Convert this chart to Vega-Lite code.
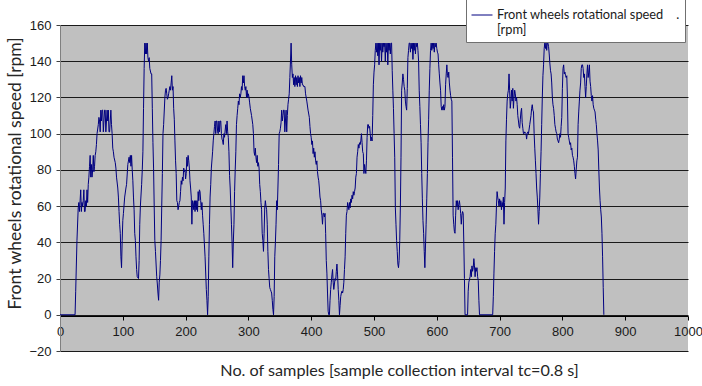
{
  "$schema": "https://vega.github.io/schema/vega-lite/v6.json",
  "autosize": "none",
  "width": 628,
  "height": 326,
  "padding": {"left": 60, "top": 25, "right": 14, "bottom": 35},
  "background": "white",
  "config": {
    "view": {"fill": "#c0c0c0", "stroke": null},
    "axis": {
      "labelFont": "Liberation Sans",
      "labelFontSize": 13,
      "labelColor": "#1a1a1a",
      "titleFont": "Lato",
      "titleFontWeight": "normal",
      "titleColor": "#262626"
    }
  },
  "data": {
    "values": [
      {"n":0,"rpm":0},{"n":24,"rpm":0},{"n":25,"rpm":13},{"n":27,"rpm":41},{"n":29,"rpm":59},{"n":30,"rpm":62},{"n":31,"rpm":57},{"n":32,"rpm":63},{"n":33,"rpm":69},{"n":34,"rpm":57},{"n":35,"rpm":62},{"n":36,"rpm":60},{"n":37,"rpm":63},{"n":38,"rpm":69},{"n":39,"rpm":57},{"n":40,"rpm":57},{"n":41,"rpm":63},{"n":42,"rpm":60},{"n":43,"rpm":69},{"n":44,"rpm":62},{"n":45,"rpm":72},{"n":46,"rpm":76},{"n":47,"rpm":82},{"n":48,"rpm":88},{"n":49,"rpm":76},{"n":50,"rpm":83},{"n":51,"rpm":76},{"n":52,"rpm":80},{"n":53,"rpm":88},{"n":54,"rpm":79},{"n":55,"rpm":82},{"n":56,"rpm":88},{"n":57,"rpm":90},{"n":58,"rpm":94},{"n":59,"rpm":100},{"n":61,"rpm":105},{"n":62,"rpm":109},{"n":63,"rpm":107},{"n":64,"rpm":101},{"n":65,"rpm":113},{"n":66,"rpm":107},{"n":67,"rpm":113},{"n":68,"rpm":113},{"n":69,"rpm":101},{"n":70,"rpm":107},{"n":71,"rpm":113},{"n":72,"rpm":113},{"n":73,"rpm":101},{"n":74,"rpm":107},{"n":75,"rpm":113},{"n":76,"rpm":107},{"n":77,"rpm":113},{"n":78,"rpm":101},{"n":79,"rpm":101},{"n":80,"rpm":107},{"n":81,"rpm":113},{"n":82,"rpm":105},{"n":83,"rpm":100},{"n":84,"rpm":92},{"n":85,"rpm":90},{"n":86,"rpm":87},{"n":88,"rpm":84},{"n":89,"rpm":81},{"n":90,"rpm":76},{"n":92,"rpm":70},{"n":93,"rpm":65},{"n":94,"rpm":57},{"n":95,"rpm":50},{"n":96,"rpm":45},{"n":97,"rpm":32},{"n":98,"rpm":26},{"n":99,"rpm":41},{"n":100,"rpm":52},{"n":101,"rpm":56},{"n":103,"rpm":65},{"n":105,"rpm":70},{"n":106,"rpm":72},{"n":108,"rpm":83},{"n":110,"rpm":87},{"n":111,"rpm":84},{"n":112,"rpm":88},{"n":113,"rpm":82},
      {"n":114,"rpm":88},{"n":115,"rpm":80},{"n":116,"rpm":74},{"n":117,"rpm":65},{"n":118,"rpm":58},{"n":119,"rpm":45},{"n":120,"rpm":41},{"n":121,"rpm":32},{"n":122,"rpm":25},{"n":123,"rpm":21},{"n":125,"rpm":20},{"n":126,"rpm":30},{"n":127,"rpm":50},{"n":128,"rpm":60},{"n":130,"rpm":72},{"n":131,"rpm":80},{"n":132,"rpm":90},{"n":133,"rpm":114},{"n":134,"rpm":136},{"n":135,"rpm":150},{"n":136,"rpm":144},{"n":137,"rpm":150},{"n":138,"rpm":144},{"n":139,"rpm":150},{"n":140,"rpm":142},{"n":141,"rpm":140},{"n":142,"rpm":142},{"n":143,"rpm":136},{"n":145,"rpm":133},{"n":146,"rpm":133},{"n":147,"rpm":114},{"n":148,"rpm":95},{"n":149,"rpm":81},{"n":150,"rpm":60},{"n":151,"rpm":41},{"n":152,"rpm":35},{"n":154,"rpm":21},{"n":155,"rpm":17},{"n":156,"rpm":12},{"n":157,"rpm":8},{"n":158,"rpm":18},{"n":159,"rpm":22},{"n":160,"rpm":30},{"n":161,"rpm":41},{"n":162,"rpm":60},{"n":163,"rpm":78},{"n":164,"rpm":100},{"n":165,"rpm":105},{"n":167,"rpm":120},{"n":168,"rpm":124},{"n":169,"rpm":125},{"n":170,"rpm":122},{"n":171,"rpm":119},{"n":172,"rpm":120},{"n":173,"rpm":122},{"n":174,"rpm":124},{"n":175,"rpm":126},{"n":176,"rpm":124},{"n":177,"rpm":128},{"n":178,"rpm":132},{"n":179,"rpm":124},{"n":180,"rpm":126},{"n":181,"rpm":114},{"n":182,"rpm":108},{"n":183,"rpm":96},{"n":184,"rpm":85},{"n":185,"rpm":78},{"n":186,"rpm":63},{"n":187,"rpm":62},{"n":188,"rpm":58},{"n":189,"rpm":60},{"n":190,"rpm":62},{"n":191,"rpm":63},{"n":192,"rpm":68},{"n":193,"rpm":74},{"n":194,"rpm":72},{"n":195,"rpm":76},{"n":196,"rpm":74},{"n":197,"rpm":81},{"n":198,"rpm":79},{"n":199,"rpm":80},{"n":200,"rpm":75},{"n":201,"rpm":78},{"n":202,"rpm":87},{"n":203,"rpm":82},{"n":204,"rpm":88},{"n":205,"rpm":85},{"n":206,"rpm":81},{"n":207,"rpm":74},{"n":208,"rpm":70},{"n":209,"rpm":65},{"n":210,"rpm":50},{"n":211,"rpm":63},{"n":212,"rpm":62},{"n":213,"rpm":58},{"n":214,"rpm":63},{"n":215,"rpm":57},{"n":216,"rpm":63},{"n":217,"rpm":58},{"n":218,"rpm":63},{"n":219,"rpm":57},{"n":220,"rpm":68},{"n":221,"rpm":63},{"n":222,"rpm":69},
      {"n":223,"rpm":68},{"n":224,"rpm":63},{"n":225,"rpm":58},{"n":226,"rpm":62},{"n":227,"rpm":55},{"n":228,"rpm":50},{"n":229,"rpm":45},{"n":231,"rpm":32},{"n":233,"rpm":14},{"n":234,"rpm":8},{"n":235,"rpm":0},{"n":236,"rpm":10},{"n":237,"rpm":32},{"n":238,"rpm":50},{"n":239,"rpm":65},{"n":240,"rpm":72},{"n":241,"rpm":81},{"n":243,"rpm":90},{"n":244,"rpm":96},{"n":246,"rpm":104},{"n":247,"rpm":107},{"n":248,"rpm":100},{"n":249,"rpm":107},{"n":250,"rpm":107},{"n":251,"rpm":101},{"n":252,"rpm":100},{"n":253,"rpm":107},{"n":254,"rpm":101},{"n":255,"rpm":107},{"n":256,"rpm":107},{"n":257,"rpm":100},{"n":258,"rpm":97},{"n":259,"rpm":96},{"n":260,"rpm":94},{"n":261,"rpm":100},{"n":262,"rpm":98},{"n":263,"rpm":102},{"n":264,"rpm":105},{"n":265,"rpm":100},{"n":266,"rpm":107},{"n":267,"rpm":101},{"n":268,"rpm":98},{"n":269,"rpm":90},{"n":270,"rpm":77},{"n":271,"rpm":70},{"n":272,"rpm":60},{"n":273,"rpm":50},{"n":274,"rpm":40},{"n":275,"rpm":26},{"n":276,"rpm":40},{"n":277,"rpm":50},{"n":278,"rpm":68},{"n":279,"rpm":80},{"n":280,"rpm":90},{"n":281,"rpm":105},{"n":282,"rpm":110},{"n":283,"rpm":114},{"n":284,"rpm":118},{"n":285,"rpm":116},{"n":286,"rpm":122},{"n":287,"rpm":120},{"n":288,"rpm":122},{"n":289,"rpm":126},{"n":290,"rpm":124},{"n":291,"rpm":132},{"n":292,"rpm":128},{"n":293,"rpm":132},{"n":294,"rpm":126},{"n":295,"rpm":124},{"n":296,"rpm":126},{"n":297,"rpm":120},{"n":298,"rpm":124},{"n":299,"rpm":120},{"n":300,"rpm":122},{"n":301,"rpm":120},{"n":302,"rpm":117},{"n":303,"rpm":114},{"n":305,"rpm":110},{"n":307,"rpm":105},{"n":308,"rpm":100},{"n":309,"rpm":90},{"n":310,"rpm":88},{"n":311,"rpm":92},{"n":312,"rpm":87},{"n":313,"rpm":84},{"n":314,"rpm":88},{"n":315,"rpm":82},{"n":316,"rpm":84},{"n":317,"rpm":81},{"n":318,"rpm":72},{"n":319,"rpm":68},{"n":320,"rpm":62},{"n":321,"rpm":58},{"n":322,"rpm":45},{"n":323,"rpm":41},{"n":324,"rpm":35},{"n":325,"rpm":45},{"n":326,"rpm":59},{"n":327,"rpm":63},{"n":328,"rpm":60},{"n":329,"rpm":58},{"n":330,"rpm":50},{"n":331,"rpm":35},{"n":332,"rpm":25},{"n":333,"rpm":20},{"n":334,"rpm":15},
      {"n":335,"rpm":14},{"n":336,"rpm":13},{"n":337,"rpm":12},{"n":338,"rpm":8},{"n":339,"rpm":3},{"n":340,"rpm":0},{"n":341,"rpm":10},{"n":342,"rpm":32},{"n":343,"rpm":40},{"n":344,"rpm":50},{"n":345,"rpm":63},{"n":346,"rpm":58},{"n":347,"rpm":70},{"n":348,"rpm":83},{"n":349,"rpm":100},{"n":350,"rpm":101},{"n":351,"rpm":103},{"n":352,"rpm":106},{"n":353,"rpm":113},{"n":354,"rpm":107},{"n":355,"rpm":110},{"n":356,"rpm":113},{"n":357,"rpm":113},{"n":358,"rpm":101},{"n":359,"rpm":107},{"n":360,"rpm":113},{"n":361,"rpm":101},{"n":362,"rpm":110},{"n":363,"rpm":116},{"n":364,"rpm":119},{"n":365,"rpm":122},{"n":366,"rpm":131},{"n":367,"rpm":140},{"n":368,"rpm":150},{"n":369,"rpm":138},{"n":370,"rpm":131},{"n":371,"rpm":133},{"n":372,"rpm":127},{"n":373,"rpm":131},{"n":374,"rpm":126},{"n":375,"rpm":132},{"n":376,"rpm":127},{"n":377,"rpm":131},{"n":378,"rpm":126},{"n":379,"rpm":132},{"n":380,"rpm":128},{"n":381,"rpm":131},{"n":382,"rpm":126},{"n":383,"rpm":132},{"n":384,"rpm":128},{"n":385,"rpm":131},{"n":386,"rpm":127},{"n":387,"rpm":127},{"n":388,"rpm":126},{"n":390,"rpm":126},{"n":391,"rpm":122},{"n":393,"rpm":118},{"n":395,"rpm":113},{"n":397,"rpm":109},{"n":398,"rpm":104},{"n":399,"rpm":100},{"n":400,"rpm":98},{"n":401,"rpm":94},{"n":402,"rpm":96},{"n":403,"rpm":89},{"n":404,"rpm":92},{"n":405,"rpm":87},{"n":406,"rpm":90},{"n":407,"rpm":85},{"n":408,"rpm":83},{"n":409,"rpm":85},{"n":410,"rpm":79},{"n":411,"rpm":76},{"n":412,"rpm":74},{"n":413,"rpm":70},{"n":414,"rpm":65},{"n":415,"rpm":63},{"n":416,"rpm":58},{"n":417,"rpm":55},{"n":418,"rpm":50},{"n":419,"rpm":56},{"n":420,"rpm":56},{"n":421,"rpm":54},{"n":422,"rpm":56},{"n":423,"rpm":45},{"n":424,"rpm":30},{"n":425,"rpm":23},{"n":426,"rpm":12},{"n":427,"rpm":2},{"n":428,"rpm":0},{"n":429,"rpm":0},{"n":430,"rpm":8},{"n":431,"rpm":14},{"n":432,"rpm":18},{"n":433,"rpm":22},{"n":434,"rpm":25},{"n":435,"rpm":18},{"n":436,"rpm":14},{"n":437,"rpm":17},{"n":438,"rpm":20},{"n":439,"rpm":19},{"n":440,"rpm":24},{"n":441,"rpm":28},{"n":442,"rpm":22},{"n":443,"rpm":14},{"n":444,"rpm":8},{"n":445,"rpm":0},{"n":446,"rpm":5},{"n":447,"rpm":10},{"n":448,"rpm":12},{"n":449,"rpm":13},{"n":450,"rpm":12},{"n":451,"rpm":14},
      {"n":452,"rpm":18},{"n":453,"rpm":25},{"n":454,"rpm":32},{"n":455,"rpm":45},{"n":456,"rpm":55},{"n":457,"rpm":57},{"n":458,"rpm":62},{"n":459,"rpm":60},{"n":460,"rpm":58},{"n":461,"rpm":62},{"n":462,"rpm":59},{"n":463,"rpm":64},{"n":464,"rpm":62},{"n":465,"rpm":66},{"n":466,"rpm":64},{"n":467,"rpm":68},{"n":468,"rpm":66},{"n":469,"rpm":68},{"n":470,"rpm":70},{"n":471,"rpm":76},{"n":472,"rpm":78},{"n":473,"rpm":87},{"n":474,"rpm":90},{"n":475,"rpm":94},{"n":476,"rpm":92},{"n":477,"rpm":95},{"n":478,"rpm":94},{"n":479,"rpm":96},{"n":480,"rpm":100},{"n":481,"rpm":95},{"n":482,"rpm":90},{"n":483,"rpm":89},{"n":484,"rpm":78},{"n":485,"rpm":83},{"n":486,"rpm":80},{"n":487,"rpm":78},{"n":488,"rpm":85},{"n":489,"rpm":98},{"n":490,"rpm":105},{"n":491,"rpm":105},{"n":492,"rpm":103},{"n":493,"rpm":104},{"n":494,"rpm":100},{"n":495,"rpm":96},{"n":496,"rpm":98},{"n":497,"rpm":96},{"n":498,"rpm":110},{"n":499,"rpm":127},{"n":500,"rpm":134},{"n":501,"rpm":138},{"n":502,"rpm":146},{"n":503,"rpm":150},{"n":504,"rpm":145},{"n":505,"rpm":150},{"n":506,"rpm":143},{"n":507,"rpm":150},{"n":508,"rpm":138},{"n":509,"rpm":150},{"n":510,"rpm":146},{"n":511,"rpm":150},{"n":512,"rpm":140},{"n":513,"rpm":150},{"n":514,"rpm":145},{"n":515,"rpm":150},{"n":516,"rpm":148},{"n":517,"rpm":150},{"n":518,"rpm":140},{"n":519,"rpm":150},{"n":520,"rpm":145},{"n":521,"rpm":150},{"n":522,"rpm":138},{"n":523,"rpm":150},{"n":524,"rpm":146},{"n":525,"rpm":150},{"n":526,"rpm":144},{"n":527,"rpm":150},{"n":528,"rpm":150},{"n":529,"rpm":135},{"n":530,"rpm":124},{"n":531,"rpm":114},{"n":532,"rpm":100},{"n":533,"rpm":87},{"n":534,"rpm":59},{"n":535,"rpm":50},{"n":536,"rpm":41},{"n":537,"rpm":35},{"n":538,"rpm":28},{"n":539,"rpm":26},{"n":540,"rpm":30},{"n":541,"rpm":41},{"n":542,"rpm":60},{"n":543,"rpm":87},{"n":544,"rpm":124},{"n":545,"rpm":128},{"n":546,"rpm":133},{"n":547,"rpm":130},{"n":548,"rpm":126},{"n":549,"rpm":124},{"n":550,"rpm":118},{"n":551,"rpm":115},{"n":552,"rpm":113},{"n":553,"rpm":125},{"n":554,"rpm":142},{"n":555,"rpm":146},{"n":556,"rpm":150},
      {"n":557,"rpm":150},{"n":558,"rpm":145},{"n":559,"rpm":150},{"n":560,"rpm":147},{"n":561,"rpm":150},{"n":562,"rpm":141},{"n":563,"rpm":150},{"n":564,"rpm":146},{"n":565,"rpm":150},{"n":566,"rpm":144},{"n":567,"rpm":150},{"n":568,"rpm":148},{"n":569,"rpm":150},{"n":570,"rpm":146},{"n":571,"rpm":140},{"n":572,"rpm":124},{"n":573,"rpm":115},{"n":574,"rpm":105},{"n":575,"rpm":95},{"n":576,"rpm":78},{"n":577,"rpm":64},{"n":578,"rpm":52},{"n":579,"rpm":45},{"n":580,"rpm":35},{"n":581,"rpm":26},{"n":582,"rpm":38},{"n":583,"rpm":50},{"n":584,"rpm":64},{"n":585,"rpm":78},{"n":586,"rpm":95},{"n":587,"rpm":108},{"n":588,"rpm":124},{"n":589,"rpm":136},{"n":590,"rpm":146},{"n":591,"rpm":150},{"n":592,"rpm":146},{"n":593,"rpm":150},{"n":594,"rpm":147},{"n":595,"rpm":150},{"n":596,"rpm":145},{"n":597,"rpm":150},{"n":598,"rpm":148},{"n":599,"rpm":150},{"n":600,"rpm":147},{"n":601,"rpm":145},{"n":602,"rpm":144},{"n":603,"rpm":138},{"n":604,"rpm":133},{"n":605,"rpm":128},{"n":606,"rpm":124},{"n":607,"rpm":115},{"n":608,"rpm":113},{"n":609,"rpm":115},{"n":610,"rpm":113},{"n":611,"rpm":116},{"n":612,"rpm":113},{"n":613,"rpm":115},{"n":614,"rpm":127},{"n":615,"rpm":133},{"n":616,"rpm":138},{"n":617,"rpm":132},{"n":618,"rpm":131},{"n":619,"rpm":134},{"n":620,"rpm":128},{"n":621,"rpm":124},{"n":622,"rpm":121},{"n":623,"rpm":119},{"n":624,"rpm":118},{"n":625,"rpm":87},{"n":626,"rpm":55},{"n":627,"rpm":50},{"n":628,"rpm":46},{"n":629,"rpm":45},{"n":630,"rpm":55},{"n":631,"rpm":63},{"n":632,"rpm":60},{"n":633,"rpm":63},{"n":634,"rpm":58},{"n":635,"rpm":61},{"n":636,"rpm":63},{"n":637,"rpm":60},{"n":638,"rpm":56},{"n":639,"rpm":50},{"n":640,"rpm":55},{"n":641,"rpm":57},{"n":642,"rpm":56},{"n":643,"rpm":40},{"n":644,"rpm":20},{"n":645,"rpm":0},{"n":649,"rpm":0},{"n":650,"rpm":13},{"n":651,"rpm":18},{"n":653,"rpm":21},{"n":654,"rpm":25},{"n":655,"rpm":21},{"n":656,"rpm":27},{"n":657,"rpm":24},{"n":658,"rpm":26},{"n":659,"rpm":31},{"n":660,"rpm":27},{"n":661,"rpm":21},{"n":662,"rpm":26},{"n":663,"rpm":24},{"n":664,"rpm":26},{"n":665,"rpm":21},{"n":666,"rpm":19},{"n":667,"rpm":8},{"n":668,"rpm":0},
      {"n":689,"rpm":0},{"n":690,"rpm":10},{"n":691,"rpm":23},{"n":692,"rpm":35},{"n":693,"rpm":45},{"n":694,"rpm":50},{"n":695,"rpm":60},{"n":696,"rpm":68},{"n":697,"rpm":65},{"n":698,"rpm":63},{"n":699,"rpm":60},{"n":700,"rpm":64},{"n":701,"rpm":60},{"n":702,"rpm":63},{"n":703,"rpm":58},{"n":704,"rpm":62},{"n":705,"rpm":60},{"n":706,"rpm":65},{"n":707,"rpm":50},{"n":708,"rpm":62},{"n":709,"rpm":70},{"n":710,"rpm":96},{"n":711,"rpm":108},{"n":712,"rpm":118},{"n":713,"rpm":122},{"n":714,"rpm":124},{"n":715,"rpm":133},{"n":716,"rpm":124},{"n":717,"rpm":114},{"n":718,"rpm":118},{"n":719,"rpm":124},{"n":720,"rpm":118},{"n":721,"rpm":125},{"n":722,"rpm":114},{"n":723,"rpm":120},{"n":724,"rpm":124},{"n":725,"rpm":122},{"n":726,"rpm":118},{"n":727,"rpm":120},{"n":728,"rpm":116},{"n":729,"rpm":110},{"n":730,"rpm":107},{"n":731,"rpm":104},{"n":732,"rpm":103},{"n":733,"rpm":108},{"n":734,"rpm":112},{"n":735,"rpm":114},{"n":736,"rpm":106},{"n":737,"rpm":103},{"n":738,"rpm":100},{"n":739,"rpm":100},{"n":740,"rpm":101},{"n":742,"rpm":100},{"n":743,"rpm":97},{"n":744,"rpm":100},{"n":745,"rpm":101},{"n":746,"rpm":100},{"n":748,"rpm":105},{"n":750,"rpm":110},{"n":751,"rpm":114},{"n":752,"rpm":116},{"n":753,"rpm":113},{"n":754,"rpm":112},{"n":755,"rpm":100},{"n":756,"rpm":92},{"n":757,"rpm":85},{"n":758,"rpm":78},{"n":759,"rpm":70},{"n":760,"rpm":65},{"n":761,"rpm":58},{"n":762,"rpm":50},{"n":763,"rpm":57},{"n":764,"rpm":65},{"n":765,"rpm":78},{"n":766,"rpm":90},{"n":767,"rpm":105},{"n":768,"rpm":120},{"n":769,"rpm":132},{"n":770,"rpm":138},{"n":771,"rpm":147},
      {"n":772,"rpm":150},{"n":773,"rpm":147},{"n":774,"rpm":150},{"n":775,"rpm":146},{"n":776,"rpm":150},{"n":777,"rpm":150},{"n":778,"rpm":148},{"n":779,"rpm":144},{"n":780,"rpm":139},{"n":781,"rpm":135},{"n":782,"rpm":133},{"n":783,"rpm":128},{"n":784,"rpm":120},{"n":785,"rpm":116},{"n":786,"rpm":114},{"n":787,"rpm":110},{"n":788,"rpm":105},{"n":789,"rpm":103},{"n":790,"rpm":101},{"n":791,"rpm":100},{"n":792,"rpm":97},{"n":793,"rpm":96},{"n":794,"rpm":95},{"n":795,"rpm":97},{"n":796,"rpm":100},{"n":797,"rpm":98},{"n":798,"rpm":104},{"n":799,"rpm":109},{"n":800,"rpm":125},{"n":801,"rpm":136},{"n":802,"rpm":138},{"n":803,"rpm":133},{"n":804,"rpm":134},{"n":805,"rpm":132},{"n":806,"rpm":131},{"n":807,"rpm":132},{"n":808,"rpm":120},{"n":809,"rpm":100},{"n":810,"rpm":98},{"n":811,"rpm":96},{"n":812,"rpm":94},{"n":813,"rpm":95},{"n":814,"rpm":91},{"n":815,"rpm":92},{"n":816,"rpm":88},{"n":817,"rpm":87},{"n":818,"rpm":85},{"n":819,"rpm":82},{"n":820,"rpm":78},{"n":821,"rpm":75},{"n":822,"rpm":80},{"n":823,"rpm":85},{"n":824,"rpm":87},{"n":825,"rpm":105},{"n":826,"rpm":112},{"n":827,"rpm":118},{"n":828,"rpm":124},{"n":829,"rpm":128},{"n":830,"rpm":136},{"n":831,"rpm":138},{"n":832,"rpm":138},{"n":833,"rpm":136},{"n":834,"rpm":131},{"n":835,"rpm":133},{"n":836,"rpm":126},{"n":837,"rpm":120},{"n":838,"rpm":126},{"n":839,"rpm":133},{"n":840,"rpm":138},{"n":841,"rpm":131},{"n":842,"rpm":134},{"n":843,"rpm":138},{"n":844,"rpm":129},{"n":845,"rpm":126},{"n":846,"rpm":121},{"n":847,"rpm":118},{"n":848,"rpm":121},{"n":849,"rpm":116},{"n":850,"rpm":114},{"n":851,"rpm":113},{"n":852,"rpm":112},{"n":853,"rpm":108},{"n":854,"rpm":105},{"n":855,"rpm":100},{"n":856,"rpm":96},{"n":857,"rpm":91},{"n":858,"rpm":80},{"n":859,"rpm":70},{"n":860,"rpm":63},{"n":861,"rpm":58},{"n":862,"rpm":54},{"n":863,"rpm":45},{"n":864,"rpm":32},{"n":865,"rpm":15},{"n":866,"rpm":0}
    ]
  },
  "mark": {"type": "line", "strokeWidth": 1, "interpolate": "linear"},
  "encoding": {
    "x": {
      "field": "n",
      "type": "quantitative",
      "scale": {"domain": [0, 1000], "nice": false},
      "axis": {
        "title": "No. of samples [sample collection interval tc=0.8 s]",
        "titleFontSize": 16.2,
        "titleBaseline": "middle",
        "titleX": 339,
        "titleY": 54,
        "values": [0, 100, 200, 300, 400, 500, 600, 700, 800, 900, 1000],
        "format": "d",
        "offset": -35,
        "grid": false,
        "domainColor": "#000000",
        "tickColor": "#000000",
        "tickSize": 4,
        "labelPadding": 5,
        "labelFlush": false,
        "labelOverlap": false
      }
    },
    "y": {
      "field": "rpm",
      "type": "quantitative",
      "scale": {"domain": [-20, 160], "nice": false, "zero": false},
      "axis": {
        "title": "Front wheels rotational speed [rpm]",
        "titleFontSize": 17.5,
        "titleY": 148,
        "values": [-20, 0, 20, 40, 60, 80, 100, 120, 140, 160],
        "grid": true,
        "gridColor": "#1a1a1a",
        "gridWidth": 1,
        "domainColor": "#808080",
        "tickColor": "#404040",
        "tickSize": 4,
        "labelPadding": 5,
        "labelFlush": false,
        "labelOverlap": false
      }
    },
    "color": {
      "datum": "Front wheels rotational speed [rpm]",
      "scale": {"range": ["#000080"]},
      "legend": {
        "title": null,
        "orient": "none",
        "legendX": 406,
        "legendY": -26,
        "fillColor": "white",
        "strokeColor": "#707070",
        "padding": 5,
        "symbolType": "stroke",
        "symbolSize": 440,
        "symbolStrokeWidth": 1,
        "labelFont": "Lato",
        "labelFontSize": 12.8,
        "labelColor": "#1a1a1a",
        "labelOffset": 4,
        "labelLimit": 0,
        "labelLineHeight": 17,
        "labelExpr": "['Front wheels rotational speed\u00a0\u00a0\u00a0\u00a0.', '[rpm]']"
      }
    }
  }
}
